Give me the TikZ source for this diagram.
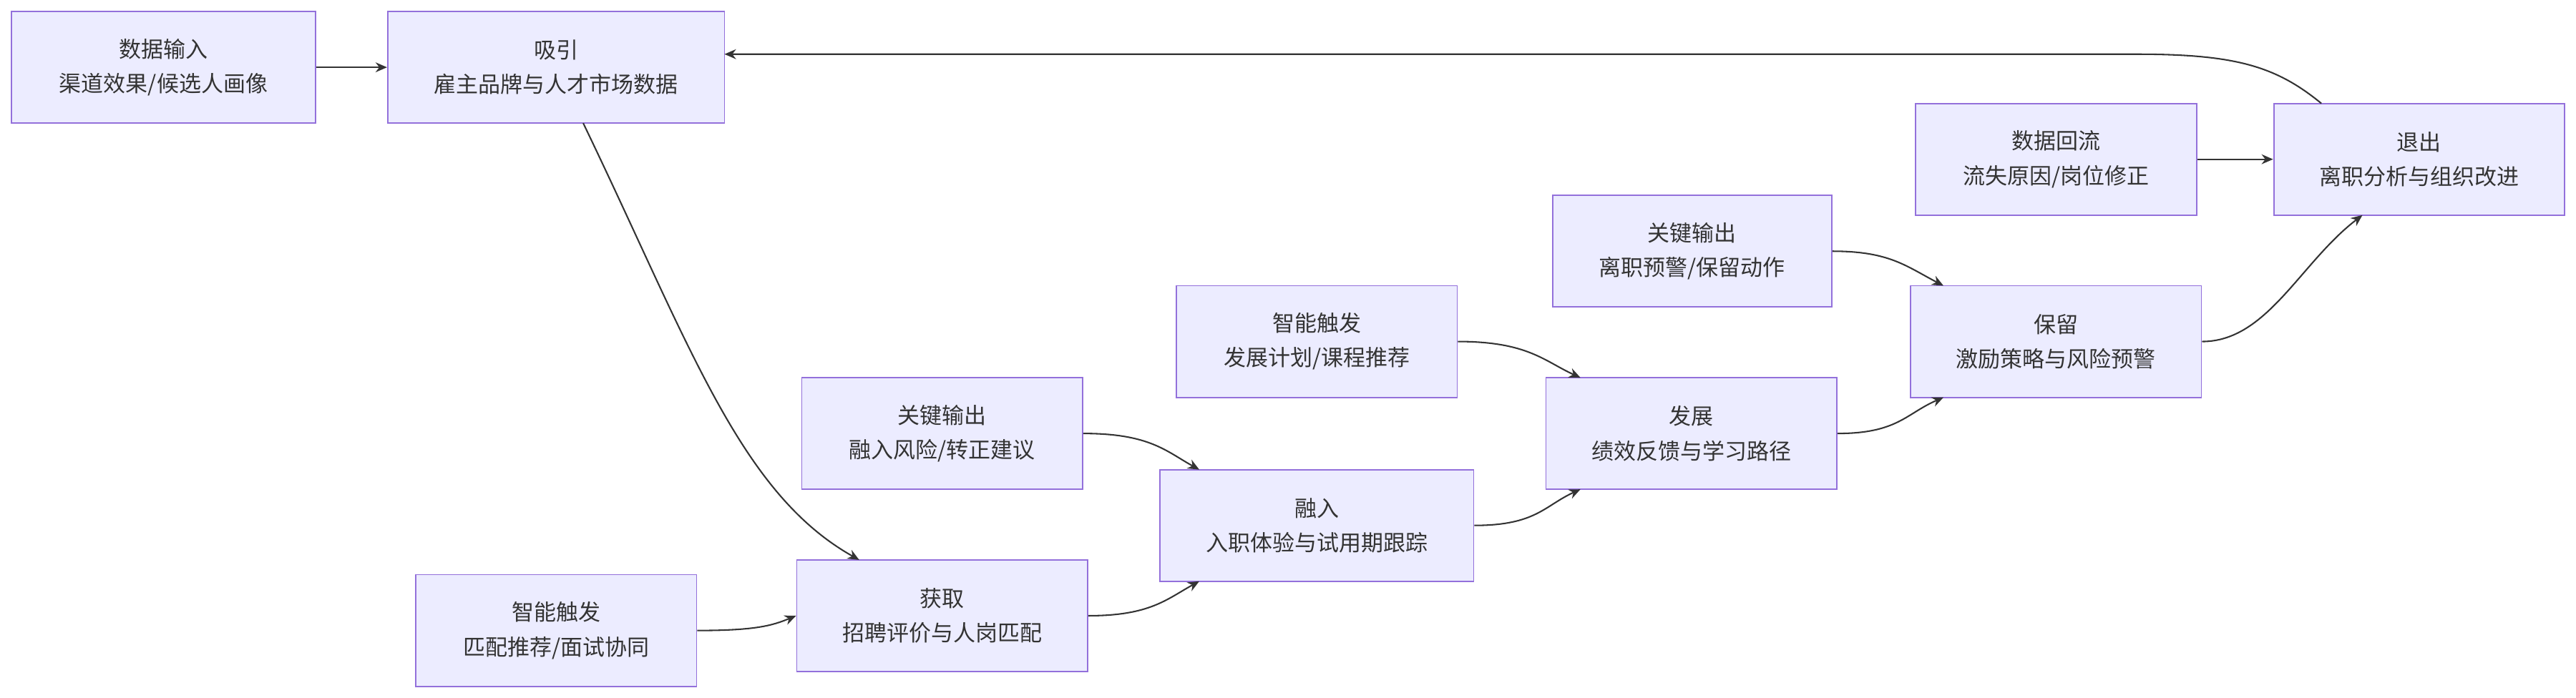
\documentclass[tikz,border=0pt]{standalone}
\usepackage{fontspec}
\setmainfont{Noto Sans CJK SC}
\usetikzlibrary{arrows.meta}
\begin{document}
\begin{tikzpicture}[x=1pt,y=-1pt,
  box/.style={draw=mmstroke,fill=mmfill,line width=0.8pt,text=mmtext,align=center,font=\fontsize{13.5}{21}\selectfont,inner sep=0pt},
  arr/.style={draw=mmline,line width=0.9pt,-{Stealth[length=7pt,width=6pt]}}]
\definecolor{mmfill}{HTML}{ECECFF}
\definecolor{mmstroke}{HTML}{9370DB}
\definecolor{mmtext}{HTML}{333333}
\definecolor{mmline}{HTML}{333333}
\useasboundingbox (0,0) rectangle (1568,425);
\newcommand{\bx}[6]{\node[box,minimum width={#4-#2},minimum height={#5-#3}] (#1) at ({(#2+#4)/2},{(#3+#5)/2}) {#6};}
\bx{din}{7}{7}{192}{75}{数据输入\\渠道效果/候选人画像}
\bx{att}{236}{7}{441}{75}{吸引\\雇主品牌与人才市场数据}
\bx{dback}{1166}{63}{1337}{131}{数据回流\\流失原因/岗位修正}
\bx{exit}{1384}{63}{1561}{131}{退出\\离职分析与组织改进}
\bx{kor}{945}{119}{1115}{187}{关键输出\\离职预警/保留动作}
\bx{ret}{1163}{174}{1340}{242}{保留\\激励策略与风险预警}
\bx{itd}{716}{174}{887}{242}{智能触发\\发展计划/课程推荐}
\bx{dev}{941}{230}{1118}{298}{发展\\绩效反馈与学习路径}
\bx{kom}{488}{230}{659}{298}{关键输出\\融入风险/转正建议}
\bx{onb}{706}{286}{897}{354}{融入\\入职体验与试用期跟踪}
\bx{ita}{253}{350}{424}{418}{智能触发\\匹配推荐/面试协同}
\bx{acq}{485}{341}{662}{409}{获取\\招聘评价与人岗匹配}
\draw[arr] (din.east) -- (att.east -| att.west);
\draw[arr] (355,75) .. controls (420,210) and (450,300) .. (523,341);
\draw[arr] (ita.east) .. controls (460,384) and (470,381) .. (acq.west);
\draw[arr] (acq.east) .. controls (700,375) and (710,365) .. (730,354);
\draw[arr] (kom.east) .. controls (700,264) and (710,275) .. (730,286);
\draw[arr] (onb.east) .. controls (935,320) and (940,308) .. (962,298);
\draw[arr] (itd.east) .. controls (930,208) and (940,220) .. (962,230);
\draw[arr] (dev.east) .. controls (1155,264) and (1160,252) .. (1183,242);
\draw[arr] (kor.east) .. controls (1150,153) and (1160,162) .. (1183,174);
\draw[arr] (ret.east) .. controls (1380,208) and (1400,160) .. (1438,131);
\draw[arr] (dback.east) -- (exit.west);
\draw[arr] (1413,63) .. controls (1385,40) and (1360,33) .. (1300,33) -- (441,33);
\end{tikzpicture}
\end{document}
